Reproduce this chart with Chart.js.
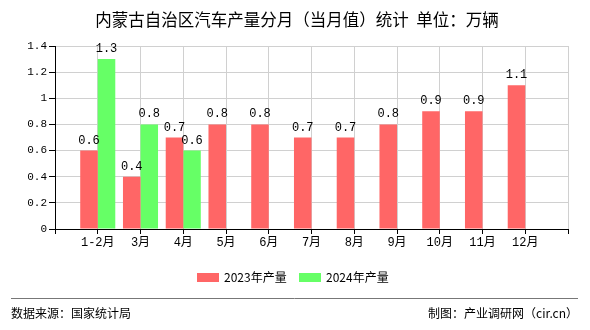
<!DOCTYPE html>
<html>
<head>
<meta charset="utf-8">
<script src="https://cdn.jsdelivr.net/npm/chart.js@4"></script>
<style>
html,body{margin:0;padding:0;background:#fff;}
#wrap{width:590px;height:330px;position:relative;}
</style>
</head>
<body>
<div id="wrap"><canvas id="c" width="590" height="330"></canvas></div>
<script>
const titleText = '内蒙古自治区汽车产量分月（当月值）统计  单位：万辆';
const sourceText = '数据来源：国家统计局';
const makerText = '制图：产业调研网（cir.cn）';
const categories = ['1-2月','3月','4月','5月','6月','7月','8月','9月','10月','11月','12月'];
const series2023Label = '2023年产量';
const series2024Label = '2024年产量';
const values2023 = [0.6,0.4,0.7,0.8,0.8,0.7,0.7,0.8,0.9,0.9,1.1];
const values2024 = [1.3,0.8,0.6];
const yTicks = [0,0.2,0.4,0.6,0.8,1,1.2,1.4];

const labels = [''].concat(categories, ['']);
function pad(arr){
  const out = [null];
  for (let i = 0; i < categories.length; i++) out.push(i < arr.length ? arr[i] : null);
  out.push(null);
  return out;
}
const RED = '#ff6666', GREEN = '#66ff66';
const monoFont = "'Liberation Mono','Noto Sans CJK SC',monospace";
const sansFont = "'Noto Sans CJK SC','Noto Sans',sans-serif";

const decor = {
  id: 'decor',
  afterDatasetsDraw(chart){
    const ctx = chart.ctx;
    ctx.save();
    ctx.fillStyle = '#000';
    ctx.font = '12px ' + monoFont;
    ctx.textAlign = 'center';
    ctx.textBaseline = 'alphabetic';
    chart.data.datasets.forEach((ds, di) => {
      const meta = chart.getDatasetMeta(di);
      meta.data.forEach((el, i) => {
        const v = ds.data[i];
        if (v === null || v === undefined) return;
        ctx.fillText(v.toFixed(1), el.x, el.y - 7);
      });
    });
    ctx.restore();
  },
  afterDraw(chart){
    const ctx = chart.ctx;
    ctx.save();
    ctx.fillStyle = '#000';
    ctx.font = '16.5px ' + sansFont;
    ctx.textAlign = 'center';
    ctx.textBaseline = 'middle';
    ctx.fillText(titleText, 297, 20);
    ctx.font = '12px ' + sansFont;
    ctx.textAlign = 'left';
    const items = chart.data.datasets.map(d => ({label: d.label, color: d.backgroundColor}));
    const xs = [197, 299];
    items.forEach((it, i) => {
      ctx.fillStyle = it.color;
      ctx.fillRect(xs[i], 273, 22, 9);
      ctx.fillStyle = '#000';
      ctx.fillText(it.label, xs[i] + 27, 277.5);
    });
    ctx.strokeStyle = '#777';
    ctx.lineWidth = 1;
    ctx.beginPath();
    ctx.moveTo(11, 298.5);
    ctx.lineTo(578, 298.5);
    ctx.stroke();
    ctx.fillStyle = '#000';
    ctx.font = '12px ' + sansFont;
    ctx.textAlign = 'left';
    ctx.fillText(sourceText, 11, 313);
    ctx.textAlign = 'right';
    ctx.fillText(makerText, 578, 313);
    ctx.restore();
  }
};

new Chart(document.getElementById('c'), {
  type: 'bar',
  data: {
    labels: labels,
    datasets: [
      {label: series2023Label, data: pad(values2023), backgroundColor: RED},
      {label: series2024Label, data: pad(values2024), backgroundColor: GREEN}
    ]
  },
  options: {
    responsive: false,
    animation: false,
    devicePixelRatio: 1,
    layout: {padding: {left: 0, top: 46, right: 22, bottom: 81}},
    datasets: {bar: {barPercentage: 1, categoryPercentage: 0.82}},
    plugins: {legend: {display: false}, title: {display: false}, tooltip: {enabled: false}},
    scales: {
      x: {
        offset: false,
        grid: {offset: false, color: '#d0d0d0', tickColor: '#000', tickLength: 5, drawTicks: true},
        border: {color: '#000'},
        ticks: {color: '#000', font: {family: monoFont, size: 12}, padding: 2, maxRotation: 0, autoSkip: false},
        afterFit(scale){ scale.height = 20; }
      },
      y: {
        min: 0, max: 1.4,
        afterBuildTicks(scale){ scale.ticks = yTicks.map(v => ({value: v})); },
        grid: {color: '#d0d0d0', tickColor: '#000', tickLength: 6},
        border: {color: '#000'},
        ticks: {color: '#000', font: {family: monoFont, size: 11}, padding: 2,
          callback: v => String(Math.round(v * 10) / 10)},
        afterFit(scale){ scale.width = 55; }
      }
    }
  },
  plugins: [decor]
});
</script>
</body>
</html>
